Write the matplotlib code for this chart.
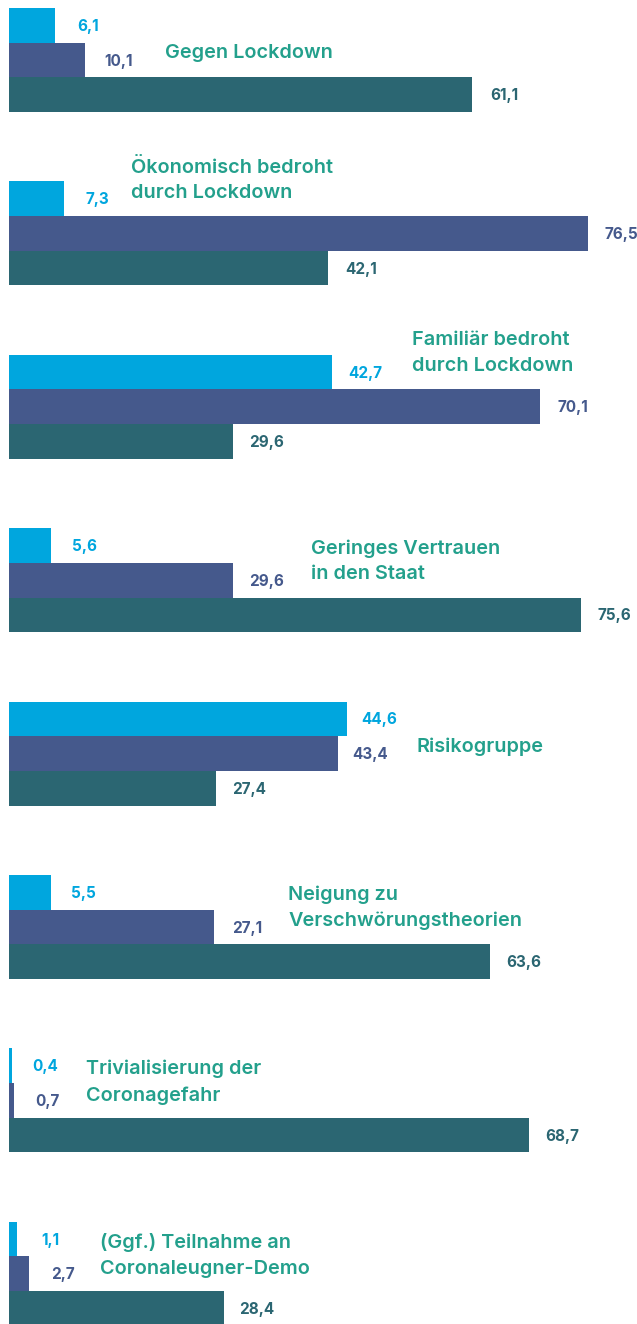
import numpy as np
import matplotlib
matplotlib.use('Agg')
from matplotlib import pyplot as plt

# values (percent), top bar to bottom bar in each group
categories = ['Gegen Lockdown',
              'Ökonomisch bedroht\ndurch Lockdown',
              'Familiär bedroht\ndurch Lockdown',
              'Geringes Vertrauen\nin den Staat',
              'Risikogruppe',
              'Neigung zu\nVerschwörungstheorien',
              'Trivialisierung der\nCoronagefahr',
              '(Ggf.) Teilnahme an\nCoronaleugner-Demo']
light = [6.1, 7.3, 42.7, 5.6, 44.6, 5.5, 0.4, 1.1]
mid = [10.1, 76.5, 70.1, 29.6, 43.4, 27.1, 0.7, 2.7]
dark = [61.1, 42.1, 29.6, 75.6, 27.4, 63.6, 68.7, 28.4]

# where each category label sits: x in data units, y offset from group top
label_x = [20.6, 16.1, 53.2, 39.9, 53.8, 36.9, 10.2, 12.0]
label_dy = [1.30, -0.04, -0.05, 0.95, 1.31, 0.95, 0.97, 0.98]

colors = ['#00a6de', '#45598c', '#2b6672']
green = '#23a08c'
font = ['Inter', 'DejaVu Sans']

fig = plt.figure(figsize=(6.37, 13.24), dpi=100)
ax = fig.add_axes([0, 0, 1, 1])

px_per_unit = 7.57
ax.set_xlim(-9 / px_per_unit, (637 - 9) / px_per_unit)
bar_px = 34.68
top = -8 / bar_px
ax.set_ylim(top + 1324 / bar_px, top)

for g in range(len(categories)):
    base = 5 * g
    for k, series in enumerate([light, mid, dark]):
        v = series[g]
        ax.barh(base + k + 0.5, v, height=1.0, left=0, color=colors[k], linewidth=0)
        ax.annotate(f'{v:.1f}'.replace('.', ','), xy=(v, base + k + 0.5),
                    xytext=(33, -1), textcoords='offset pixels',
                    ha='center', va='center', fontsize=11, fontweight='bold',
                    color=colors[k], family=font)
    ax.text(label_x[g], base + label_dy[g], categories[g], ha='left', va='center',
            fontsize=14.3, fontweight='semibold', color=green, family=font,
            linespacing=1.55)

ax.axis('off')
fig.savefig('out.png', dpi=100)
